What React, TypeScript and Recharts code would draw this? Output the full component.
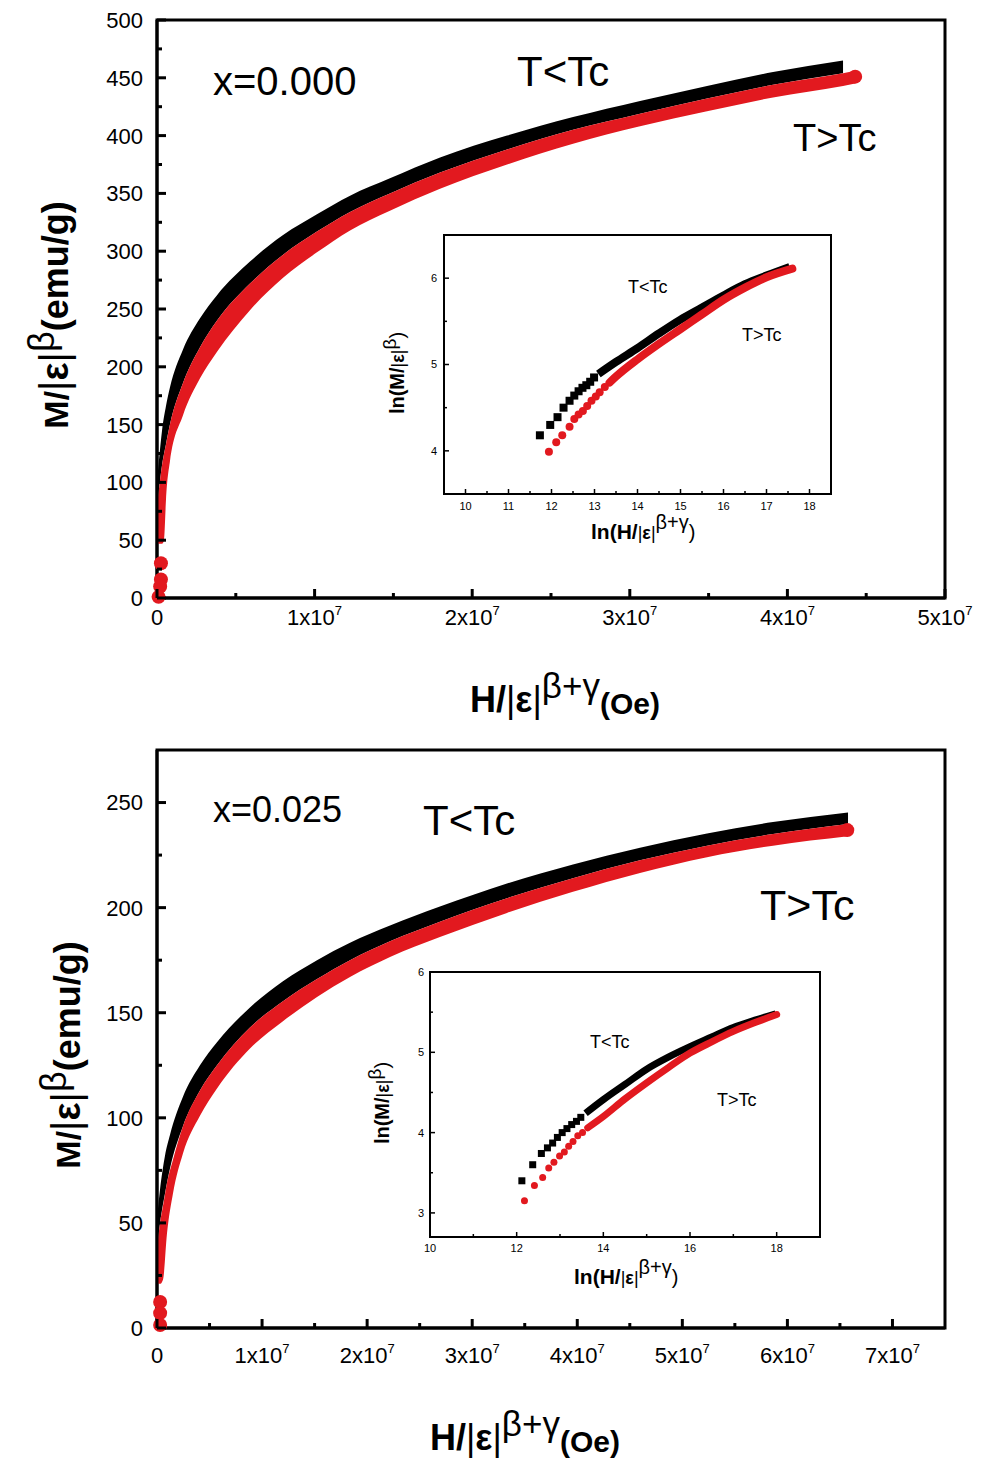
import React from 'react';
import { ComposedChart, Area, Line, Scatter, XAxis, YAxis, ReferenceArea } from 'recharts';

const FONT = '"Liberation Sans", Arial, Helvetica, sans-serif';
const BLACK = '#000000';
const RED = '#e2191f';

// ---- top panel, x = 0.000 (H in units of 1e7 Oe) ----
const topBlackH = [0, 0.013, 0.032, 0.057, 0.082, 0.165, 0.273, 0.381, 0.59, 0.8, 1.015, 1.225, 1.478, 1.796, 2.221, 2.64, 3.065, 3.49, 3.909, 4.353];
const topBlackHi = [100, 120, 145, 166, 182, 215, 242, 262, 291, 314, 332, 348, 363, 381, 400, 416, 430, 443, 455, 465];
const topBlackLo = [80, 95, 115, 133, 150, 186, 217, 240, 272, 297, 317, 334, 350, 368, 388, 405, 419, 432, 444, 454];
const topRedH = [0, 0.013, 0.032, 0.045, 0.057, 0.082, 0.165, 0.273, 0.381, 0.59, 0.8, 1.015, 1.225, 1.478, 1.796, 2.221, 2.64, 3.065, 3.49, 3.909, 4.353, 4.43];
const topRedHi = [80, 95, 115, 125, 133, 150, 186, 217, 240, 272, 297, 317, 334, 350, 368, 388, 405, 419, 432, 444, 454, 456];
const topRedLo = [47, 47, 47, 50, 85, 118, 158, 190, 213, 249, 277, 299, 318, 335, 354, 375, 393, 408, 421, 433, 443, 445];
const topRedDots = [[0.025, 30], [0.025, 16], [0.02, 10], [0.01, 1], [4.43, 451]];

// ---- bottom panel, x = 0.025 ----
const botBlackH = [0, 0.029, 0.076, 0.124, 0.247, 0.409, 0.571, 0.885, 1.199, 1.523, 1.837, 2.218, 2.693, 3.331, 3.959, 4.597, 5.235, 5.863, 6.577];
const botBlackHi = [52, 66, 82, 92, 110, 125, 136, 152.5, 165, 175, 183.3, 191.5, 200.5, 211.5, 220.5, 228.5, 235.3, 240.7, 245.3];
const botBlackLo = [38, 50, 64, 76, 96, 113, 125, 143, 155.5, 166, 175, 184, 193.3, 204.5, 214, 222.5, 229.5, 235, 239.8];
const botRedH = [0, 0.029, 0.057, 0.095, 0.152, 0.247, 0.409, 0.571, 0.885, 1.199, 1.523, 1.837, 2.218, 2.693, 3.331, 3.959, 4.597, 5.235, 5.863, 6.577];
const botRedHi = [38, 50, 58, 69, 80, 96, 113, 125, 143, 155.5, 166, 175, 184, 193.3, 204.5, 214, 222.5, 229.5, 235, 239.8];
const botRedLo = [21, 21, 23, 45, 64, 83, 101, 114, 133, 146, 157.5, 167, 176.5, 186, 197.5, 207.5, 216.5, 224, 229.5, 234];
const botRedDots = [[0.03, 12.4], [0.03, 7.1], [0.03, 1.4], [6.57, 236.9]];

// ---- insets: ln(H/|e|^(b+g)) vs ln(M/|e|^b) ----
const topInBlackPts = [[11.73, 4.18], [11.97, 4.3], [12.14, 4.39], [12.28, 4.5], [12.42, 4.58], [12.53, 4.64], [12.63, 4.69], [12.72, 4.73], [12.81, 4.76], [12.9, 4.8], [12.99, 4.85]];
const topInBlackRun = [[13.09, 4.89], [13.5, 5.03], [14.0, 5.19], [14.5, 5.36], [15.0, 5.52], [15.5, 5.66], [16.0, 5.8], [16.5, 5.93], [17.0, 6.03], [17.54, 6.13]];
const topInRedPts = [[11.94, 3.99], [12.11, 4.1], [12.25, 4.18], [12.42, 4.28], [12.53, 4.37], [12.63, 4.42], [12.73, 4.46], [12.83, 4.52], [12.93, 4.58], [13.03, 4.63], [13.12, 4.68], [13.24, 4.74]];
const topInRedRun = [[13.35, 4.79], [13.5, 4.86], [14.0, 5.06], [14.5, 5.24], [15.0, 5.41], [15.5, 5.58], [16.0, 5.75], [16.5, 5.89], [17.0, 6.01], [17.6, 6.11]];

const botInBlackPts = [[12.12, 3.4], [12.37, 3.6], [12.57, 3.74], [12.71, 3.81], [12.83, 3.87], [12.94, 3.94], [13.05, 4.0], [13.16, 4.05], [13.27, 4.1], [13.38, 4.14], [13.48, 4.19]];
const botInBlackRun = [[13.59, 4.24], [14.0, 4.41], [14.5, 4.6], [15.0, 4.79], [15.5, 4.94], [16.0, 5.07], [16.5, 5.19], [17.0, 5.31], [17.5, 5.4], [17.98, 5.48]];
const botInRedPts = [[12.18, 3.15], [12.41, 3.34], [12.6, 3.44], [12.74, 3.56], [12.86, 3.63], [12.99, 3.71], [13.1, 3.76], [13.2, 3.83], [13.3, 3.89], [13.41, 3.96], [13.52, 4.0]];
const botInRedRun = [[13.64, 4.06], [14.0, 4.2], [14.5, 4.42], [15.0, 4.62], [15.5, 4.81], [16.0, 4.99], [16.5, 5.13], [17.0, 5.26], [17.5, 5.37], [18.0, 5.47]];

// ---- ticks ----
const topXTicks = [0, 0.5, 1, 1.5, 2, 2.5, 3, 3.5, 4, 4.5, 5];
const topYTicks = [0, 25, 50, 75, 100, 125, 150, 175, 200, 225, 250, 275, 300, 325, 350, 375, 400, 425, 450, 475, 500];
const botXTicks = [0, 0.5, 1, 1.5, 2, 2.5, 3, 3.5, 4, 4.5, 5, 5.5, 6, 6.5, 7];
const botYTicks = [0, 25, 50, 75, 100, 125, 150, 175, 200, 225, 250];
const topInXTicks = [10, 10.5, 11, 11.5, 12, 12.5, 13, 13.5, 14, 14.5, 15, 15.5, 16, 16.5, 17, 17.5, 18];
const topInYTicks = [4, 4.5, 5, 5.5, 6];
const botInXTicks = [10, 11, 12, 13, 14, 15, 16, 17, 18];
const botInYTicks = [3, 3.5, 4, 4.5, 5, 5.5, 6];

const band = (h: number[], lo: number[], hi: number[]) => h.map((v, i) => ({ h: v, band: [lo[i], hi[i]] }));
const pts = (p: number[][]) => p.map(([h, m]) => ({ h, m }));
const isInt = (v: number) => Math.abs(v - Math.round(v)) < 1e-6;

type TickOpt = { major: number; minor: number; w: number; fs: number; off: number };

const xTick = (isMajor: (v: number) => boolean, fmt: (v: number) => React.ReactNode, o: TickOpt) => (p: any) => {
  const v = p.payload.value;
  const big = isMajor(v);
  return (
    <g>
      <line x1={p.x} x2={p.x} y1={p.y} y2={p.y - (big ? o.major : o.minor)} stroke="#000" strokeWidth={o.w} />
      {big && (
        <text x={p.x} y={p.y + o.off} textAnchor="middle" fontSize={o.fs} fontFamily={FONT} fill="#000">
          {fmt(v)}
        </text>
      )}
    </g>
  );
};

const yTick = (isMajor: (v: number) => boolean, o: TickOpt) => (p: any) => {
  const v = p.payload.value;
  const big = isMajor(v);
  return (
    <g>
      <line x1={p.x} x2={p.x + (big ? o.major : o.minor)} y1={p.y} y2={p.y} stroke="#000" strokeWidth={o.w} />
      {big && (
        <text x={p.x - o.off} y={p.y} dy="0.36em" textAnchor="end" fontSize={o.fs} fontFamily={FONT} fill="#000">
          {v}
        </text>
      )}
    </g>
  );
};

const sci = (v: number) =>
  v === 0 ? '0' : (
    <>
      <tspan>{`${v}x10`}</tspan>
      <tspan dy={-10} fontSize={13}>7</tspan>
    </>
  );

const dot = (r: number, color: string) => (p: any) => <circle cx={p.cx} cy={p.cy} r={r} fill={color} />;
const square = (s: number, color: string) => (p: any) => <rect x={p.cx - s / 2} y={p.cy - s / 2} width={s} height={s} fill={color} />;

type MainProps = {
  top: number;
  xMax: number;
  yMax: number;
  xTicks: number[];
  yTicks: number[];
  black: any[];
  red: any[];
  redDots: any[];
  xOff: number;
};

const MainPanel = ({ top, xMax, yMax, xTicks, yTicks, black, red, redDots, xOff }: MainProps) => (
  <div style={{ position: 'absolute', left: 0, top }}>
    <ComposedChart width={988} height={640} margin={{ top: 20, right: 43, bottom: 2, left: 97 }}>
      <XAxis
        type="number"
        dataKey="h"
        domain={[0, xMax]}
        ticks={xTicks}
        interval={0}
        height={40}
        tickSize={0}
        tickMargin={0}
        tickLine={false}
        axisLine={{ stroke: '#000', strokeWidth: 3 }}
        tick={xTick(isInt, sci, { major: 9, minor: 5, w: 3, fs: 22, off: xOff })}
      />
      <YAxis
        type="number"
        domain={[0, yMax]}
        ticks={yTicks}
        interval={0}
        width={60}
        tickSize={0}
        tickMargin={0}
        tickLine={false}
        axisLine={{ stroke: '#000', strokeWidth: 3 }}
        tick={yTick((v) => v % 50 === 0, { major: 9, minor: 5, w: 3, fs: 22, off: 14 })}
      />
      <ReferenceArea x1={0} x2={xMax} y1={0} y2={yMax} fill="none" stroke="#000" strokeWidth={3} ifOverflow="visible" />
      <Area data={black} dataKey="band" type="monotone" stroke="none" fill={BLACK} fillOpacity={1} dot={false} activeDot={false} isAnimationActive={false} />
      <Area data={red} dataKey="band" type="monotone" stroke="none" fill={RED} fillOpacity={1} dot={false} activeDot={false} isAnimationActive={false} />
      <Scatter data={redDots} dataKey="m" shape={dot(7, RED)} isAnimationActive={false} />
    </ComposedChart>
  </div>
);

type InsetProps = {
  left: number;
  top: number;
  w: number;
  h: number;
  xDom: number[];
  yDom: number[];
  xTicks: number[];
  yTicks: number[];
  xMajor: (v: number) => boolean;
  blackPts: any[];
  blackRun: any[];
  redPts: any[];
  redRun: any[];
  mk: number;
  xOff: number;
  yOff: number;
};

const InsetPanel = ({ left, top, w, h, xDom, yDom, xTicks, yTicks, xMajor, blackPts, blackRun, redPts, redRun, mk, xOff, yOff }: InsetProps) => (
  <div style={{ position: 'absolute', left: left - 100, top: top - 20 }}>
    <ComposedChart width={w + 140} height={h + 80} margin={{ top: 20, right: 40, bottom: 20, left: 40 }}>
      <XAxis
        type="number"
        dataKey="h"
        domain={xDom}
        ticks={xTicks}
        interval={0}
        height={40}
        tickSize={0}
        tickMargin={0}
        tickLine={false}
        axisLine={{ stroke: '#000', strokeWidth: 2 }}
        tick={xTick(xMajor, (v) => String(v), { major: 5, minor: 3, w: 1.5, fs: 11, off: xOff })}
      />
      <YAxis
        type="number"
        domain={yDom}
        ticks={yTicks}
        interval={0}
        width={60}
        tickSize={0}
        tickMargin={0}
        tickLine={false}
        axisLine={{ stroke: '#000', strokeWidth: 2 }}
        tick={yTick(isInt, { major: 5, minor: 3, w: 1.5, fs: 11, off: yOff })}
      />
      <ReferenceArea x1={xDom[0]} x2={xDom[1]} y1={yDom[0]} y2={yDom[1]} fill="none" stroke="#000" strokeWidth={2} ifOverflow="visible" />
      <Line data={blackRun} dataKey="m" type="monotone" stroke={BLACK} strokeWidth={mk} strokeLinecap="butt" dot={false} activeDot={false} isAnimationActive={false} />
      <Scatter data={blackPts} dataKey="m" shape={square(mk, BLACK)} isAnimationActive={false} />
      <Line data={redRun} dataKey="m" type="monotone" stroke={RED} strokeWidth={mk} strokeLinecap="round" dot={false} activeDot={false} isAnimationActive={false} />
      <Scatter data={redPts} dataKey="m" shape={dot(mk / 2, RED)} isAnimationActive={false} />
    </ComposedChart>
  </div>
);

const txt = { fontFamily: FONT, fill: '#000' };

const MainYTitle = ({ x, y }: { x: number; y: number }) => (
  <text transform={`translate(${x},${y}) rotate(-90)`} textAnchor="middle" {...txt}>
    <tspan fontSize={34} fontWeight="bold">M/</tspan>
    <tspan fontSize={40}>|</tspan>
    <tspan fontSize={38} fontWeight="bold">ε</tspan>
    <tspan fontSize={40}>|</tspan>
    <tspan fontSize={36} dy={-14}>β</tspan>
    <tspan fontSize={36} fontWeight="bold" dy={14}>(emu/g)</tspan>
  </text>
);

const MainXTitle = ({ x, y }: { x: number; y: number }) => (
  <text x={x} y={y} {...txt}>
    <tspan fontSize={36} fontWeight="bold">H/</tspan>
    <tspan fontSize={36}>|</tspan>
    <tspan fontSize={36} fontWeight="bold">ε</tspan>
    <tspan fontSize={36}>|</tspan>
    <tspan fontSize={35} dy={-14}>β+γ</tspan>
    <tspan fontSize={30} fontWeight="bold" dy={16}>(Oe)</tspan>
  </text>
);

const InsetYTitle = ({ x, y }: { x: number; y: number }) => (
  <text transform={`translate(${x},${y}) rotate(-90)`} textAnchor="middle" {...txt}>
    <tspan fontSize={20} fontWeight="bold">ln(M/</tspan>
    <tspan fontSize={18}>|</tspan>
    <tspan fontSize={18} fontWeight="bold">ε</tspan>
    <tspan fontSize={18}>|</tspan>
    <tspan fontSize={19} dy={-8}>β</tspan>
    <tspan fontSize={20} dy={8}>)</tspan>
  </text>
);

const InsetXTitle = ({ x, y }: { x: number; y: number }) => (
  <text x={x} y={y} {...txt}>
    <tspan fontSize={21} fontWeight="bold">ln(H/</tspan>
    <tspan fontSize={18}>|</tspan>
    <tspan fontSize={18} fontWeight="bold">ε</tspan>
    <tspan fontSize={18}>|</tspan>
    <tspan fontSize={20} dy={-10}>β+γ</tspan>
    <tspan fontSize={20} dy={10}>)</tspan>
  </text>
);

const Titles = () => (
  <svg width={988} height={1459} style={{ position: 'absolute', left: 0, top: 0, pointerEvents: 'none' }}>
    {/* top panel */}
    <text x={213} y={95} fontSize={40} {...txt}>x=0.000</text>
    <text x={517} y={86} fontSize={42} {...txt}>T&lt;Tc</text>
    <text x={793} y={151} fontSize={38} {...txt}>T&gt;Tc</text>
    <MainYTitle x={68} y={315} />
    <MainXTitle x={470} y={712} />
    {/* top inset */}
    <text x={628} y={293} fontSize={18} {...txt}>T&lt;Tc</text>
    <text x={742} y={341} fontSize={18} {...txt}>T&gt;Tc</text>
    <InsetYTitle x={404} y={373} />
    <InsetXTitle x={591} y={539} />
    {/* bottom panel */}
    <text x={213} y={822} fontSize={36} {...txt}>x=0.025</text>
    <text x={423} y={835} fontSize={42} {...txt}>T&lt;Tc</text>
    <text x={760} y={920} fontSize={43} {...txt}>T&gt;Tc</text>
    <MainYTitle x={80} y={1055} />
    <MainXTitle x={430} y={1450} />
    {/* bottom inset */}
    <text x={590} y={1048} fontSize={18} {...txt}>T&lt;Tc</text>
    <text x={717} y={1106} fontSize={18} {...txt}>T&gt;Tc</text>
    <InsetYTitle x={389} y={1103} />
    <InsetXTitle x={574} y={1284} />
  </svg>
);

export default function App() {
  return (
    <div style={{ position: 'absolute', left: 0, top: 0, width: 988, height: 1459, background: '#fff' }}>
      <MainPanel
        top={0}
        xMax={5}
        yMax={500}
        xTicks={topXTicks}
        yTicks={topYTicks}
        black={band(topBlackH, topBlackLo, topBlackHi)}
        red={band(topRedH, topRedLo, topRedHi)}
        redDots={pts(topRedDots)}
        xOff={27}
      />
      <MainPanel
        top={730}
        xMax={7.5}
        yMax={275}
        xTicks={botXTicks}
        yTicks={botYTicks}
        black={band(botBlackH, botBlackLo, botBlackHi)}
        red={band(botRedH, botRedLo, botRedHi)}
        redDots={pts(botRedDots)}
        xOff={35}
      />
      <InsetPanel
        left={444}
        top={235}
        w={387}
        h={259}
        xDom={[9.5, 18.5]}
        yDom={[3.5, 6.5]}
        xTicks={topInXTicks}
        yTicks={topInYTicks}
        xMajor={isInt}
        blackPts={pts(topInBlackPts)}
        blackRun={pts(topInBlackRun)}
        redPts={pts(topInRedPts)}
        redRun={pts(topInRedRun)}
        mk={8}
        xOff={16}
        yOff={7}
      />
      <InsetPanel
        left={430}
        top={972}
        w={390}
        h={265}
        xDom={[10, 19]}
        yDom={[2.7, 6]}
        xTicks={botInXTicks}
        yTicks={botInYTicks}
        xMajor={(v) => v % 2 === 0}
        blackPts={pts(botInBlackPts)}
        blackRun={pts(botInBlackRun)}
        redPts={pts(botInRedPts)}
        redRun={pts(botInRedRun)}
        mk={7}
        xOff={15}
        yOff={6}
      />
      <Titles />
    </div>
  );
}
